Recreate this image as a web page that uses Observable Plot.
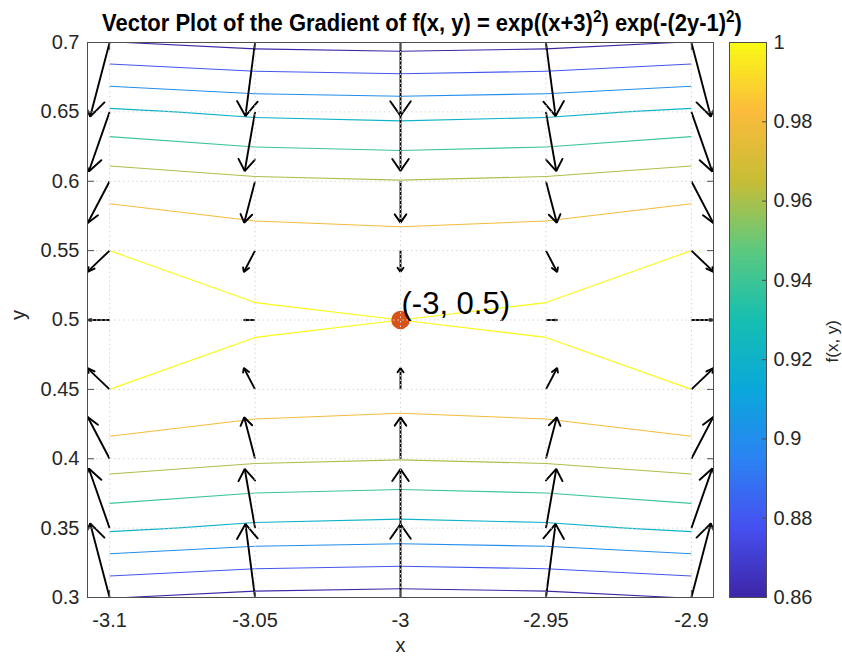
<!DOCTYPE html>
<html>
<head>
<meta charset="utf-8">
<script src="https://cdn.jsdelivr.net/npm/d3@7"></script>
<script src="https://cdn.jsdelivr.net/npm/@observablehq/plot@0.6"></script>
<style>
  html, body { margin: 0; padding: 0; background: #ffffff; }
  #fig { position: relative; width: 842px; height: 657px; overflow: hidden; font-family: "Liberation Sans", Arial, Helvetica, sans-serif; }
  #fig svg { position: absolute; left: 0; top: 0; }
  #title { position: absolute; left: 22px; top: 11px; width: 800px; text-align: center; font-weight: bold; font-size: 23.5px; line-height: 24px; color: #000; white-space: nowrap; z-index: 5; transform: scale(0.935, 1.05); transform-origin: 50% 50%; }
  #title sup { font-size: 70%; line-height: 0; vertical-align: 0.55em; }
</style>
</head>
<body>
<div id="fig">
  <div id="title">Vector Plot of the Gradient of f(x, y) = exp((x+3)<sup>2</sup>) exp(-(2y-1)<sup>2</sup>)</div>
</div>
<script>
// ---------- data ----------
const xGrid = [-3.1, -3.05, -3, -2.95, -2.9];
const yGrid = [0.3, 0.35, 0.4, 0.45, 0.5, 0.55, 0.6, 0.65, 0.7];

// f(x, y) sampled on the grid (rows follow yGrid, columns follow xGrid)
const fGrid = [
  [0.860708, 0.854277, 0.852144, 0.854277, 0.860708],
  [0.923116, 0.916219, 0.913931, 0.916219, 0.923116],
  [0.970445, 0.963194, 0.960789, 0.963194, 0.970445],
  [1.000000, 0.992528, 0.990050, 0.992528, 1.000000],
  [1.010050, 1.002503, 1.000000, 1.002503, 1.010050],
  [1.000000, 0.992528, 0.990050, 0.992528, 1.000000],
  [0.970445, 0.963194, 0.960789, 0.963194, 0.970445],
  [0.923116, 0.916219, 0.913931, 0.916219, 0.923116],
  [0.860708, 0.854277, 0.852144, 0.854277, 0.860708]
];

// displayed (auto-scaled) arrow components, data units
const uGrid = [
  [-0.006675, -0.003313, 0, 0.003313, 0.006675],
  [-0.007159, -0.003553, 0, 0.003553, 0.007159],
  [-0.007526, -0.003735, 0, 0.003735, 0.007526],
  [-0.007755, -0.003849, 0, 0.003849, 0.007755],
  [-0.007833, -0.003887, 0, 0.003887, 0.007833],
  [-0.007755, -0.003849, 0, 0.003849, 0.007755],
  [-0.007526, -0.003735, 0, 0.003735, 0.007526],
  [-0.007159, -0.003553, 0, 0.003553, 0.007159],
  [-0.006675, -0.003313, 0, 0.003313, 0.006675]
];
const vGrid = [
  [0.053400, 0.053000, 0.052869, 0.053000, 0.053400],
  [0.042954, 0.042632, 0.042527, 0.042632, 0.042954],
  [0.030104, 0.029879, 0.029805, 0.029879, 0.030104],
  [0.015510, 0.015394, 0.015356, 0.015394, 0.015510],
  [0, 0, 0, 0, 0],
  [-0.015510, -0.015394, -0.015356, -0.015394, -0.015510],
  [-0.030104, -0.029879, -0.029805, -0.029879, -0.030104],
  [-0.042954, -0.042632, -0.042527, -0.042632, -0.042954],
  [-0.053400, -0.053000, -0.052869, -0.053000, -0.053400]
];

const contourLevels = [0.86, 0.88, 0.9, 0.92, 0.94, 0.96, 0.98, 1.0];

const peakX = [-3];
const peakY = [0.5];
const peakLabel = ["(-3, 0.5)"];

const xTicks = [-3.1, -3.05, -3, -2.95, -2.9];
const xTickLabels = ["-3.1", "-3.05", "-3", "-2.95", "-2.9"];
const yTicks = [0.3, 0.35, 0.4, 0.45, 0.5, 0.55, 0.6, 0.65, 0.7];
const yTickLabels = ["0.3", "0.35", "0.4", "0.45", "0.5", "0.55", "0.6", "0.65", "0.7"];
const cbTicks = [0.86, 0.88, 0.9, 0.92, 0.94, 0.96, 0.98, 1];
const cbTickLabels = ["0.86", "0.88", "0.9", "0.92", "0.94", "0.96", "0.98", "1"];

const parulaStops = ["#3e26a8", "#4650f0", "#2b83f3", "#0aa8da", "#16bfb1", "#5cc97f", "#c8bd36", "#fbbb3b", "#f9fb15"];

// ---------- derived geometry ----------
const HEAD = 0.2;
const arrows = [];
const barbs = [];
yGrid.forEach((y, j) => xGrid.forEach((x, i) => {
  const u = uGrid[j][i], v = vGrid[j][i];
  if (u === 0 && v === 0) return;
  const xe = x + u, ye = y + v;
  const id = arrows.length;
  arrows.push({x, y, xe, ye});
  const xt = x + u * (1 - HEAD), yt = y + v * (1 - HEAD);
  const k = HEAD / 3;
  barbs.push({id, x: xt - v * k, y: yt + u * k});
  barbs.push({id, x: xe, y: ye});
  barbs.push({id, x: xt + v * k, y: yt - u * k});
}));

// marching squares on the coarse grid (linear interpolation)
const segs = [];
for (const L of contourLevels) {
  for (let j = 0; j < yGrid.length - 1; j++) {
    for (let i = 0; i < xGrid.length - 1; i++) {
      const c = [[i, j], [i + 1, j], [i + 1, j + 1], [i, j + 1]];
      const vals = c.map(([a, b]) => fGrid[b][a]);
      const pts = [];
      for (let e = 0; e < 4; e++) {
        const [a1, b1] = c[e], [a2, b2] = c[(e + 1) % 4];
        const v1 = vals[e], v2 = vals[(e + 1) % 4];
        if ((v1 >= L) !== (v2 >= L)) {
          const t = (L - v1) / (v2 - v1);
          pts.push([xGrid[a1] + t * (xGrid[a2] - xGrid[a1]), yGrid[b1] + t * (yGrid[b2] - yGrid[b1])]);
        }
      }
      for (let p = 0; p + 1 < pts.length; p += 2) {
        segs.push({level: L, x1: pts[p][0], y1: pts[p][1], x2: pts[p + 1][0], y2: pts[p + 1][1]});
      }
    }
  }
}

const cMin = cbTicks[0], cMax = cbTicks[cbTicks.length - 1];
const colorScale = {
  type: "linear",
  domain: parulaStops.map((_, i) => cMin + i * (cMax - cMin) / (parulaStops.length - 1)),
  range: parulaStops
};

const FONT = "'Liberation Sans', Arial, Helvetica, sans-serif";
const AX = "#4d4d4d";
const GRID = "#d6d6d6";
const fmt = (labels, ticks) => d => labels[ticks.indexOf(d)];

const main = Plot.plot({
  width: 842, height: 657,
  marginLeft: 87, marginRight: 129, marginTop: 42, marginBottom: 60,
  x: {domain: [-3.1076, -2.8924], label: null},
  y: {domain: [0.3, 0.7], label: null},
  color: colorScale,
  style: {background: "none", fontFamily: FONT, fontSize: "20px", color: "#262626", overflow: "visible"},
  marks: [
    Plot.link(segs, {x1: "x1", y1: "y1", x2: "x2", y2: "y2", stroke: "level", strokeWidth: 1.1, clip: true}),
    Plot.link(arrows, {x1: "x", y1: "y", x2: "xe", y2: "ye", stroke: "black", strokeWidth: 1.9, clip: true}),
    Plot.line(barbs, {x: "x", y: "y", z: "id", stroke: "black", strokeWidth: 1.9, strokeLinejoin: "miter", clip: true}),
    Plot.dot(peakLabel, {x: (d, i) => peakX[i], y: (d, i) => peakY[i], r: 8.5, fill: "#d95319", stroke: "#d95319"}),
    Plot.text(peakLabel, {x: (d, i) => peakX[i], y: (d, i) => peakY[i], text: d => d, textAnchor: "start", lineAnchor: "bottom", dx: 1, dy: -6, fontSize: 31, fill: "black"}),
    Plot.gridX(xTicks, {stroke: GRID, strokeOpacity: 1, strokeDasharray: "1.5,3"}),
    Plot.gridY(yTicks, {stroke: GRID, strokeOpacity: 1, strokeDasharray: "1.5,3"}),
    Plot.frame({stroke: AX}),
    Plot.axisX(xTicks, {anchor: "bottom", tickSize: -7, tickFormat: () => "", stroke: AX, label: null}),
    Plot.axisX(xTicks, {anchor: "top", tickSize: -7, tickFormat: () => "", stroke: AX, label: null}),
    Plot.axisY(yTicks, {anchor: "left", tickSize: -7, tickFormat: () => "", stroke: AX, label: null}),
    Plot.axisY(yTicks, {anchor: "right", tickSize: -7, tickFormat: () => "", stroke: AX, label: null}),
    Plot.axisX(xTicks, {anchor: "bottom", tickSize: 0, tickPadding: 15, tickFormat: fmt(xTickLabels, xTicks), fontSize: 20, fill: "#262626", label: null}),
    Plot.axisY(yTicks, {anchor: "left", tickSize: 0, tickPadding: 8, tickFormat: fmt(yTickLabels, yTicks), fontSize: 20, fill: "#262626", label: null}),
    Plot.text(["x"], {frameAnchor: "bottom", text: d => d, dy: 54, fontSize: 20, fill: "#262626"}),
    Plot.text(["y"], {frameAnchor: "left", text: d => d, dx: -69, rotate: -90, fontSize: 20, fill: "#262626"})
  ]
});

const ramp = d3.range(140).map(i => ({
  y1: cMin + i * (cMax - cMin) / 140,
  y2: Math.min(cMax, cMin + (i + 1.6) * (cMax - cMin) / 140),
  v: cMin + (i + 0.5) * (cMax - cMin) / 140
}));

const cbar = Plot.plot({
  width: 842, height: 657,
  marginLeft: 729, marginRight: 76, marginTop: 42, marginBottom: 60,
  x: {domain: [0, 1], axis: null},
  y: {domain: [cMin, cMax], axis: null},
  color: colorScale,
  style: {background: "none", fontFamily: FONT, fontSize: "20px", color: "#262626", overflow: "visible"},
  marks: [
    Plot.rect(ramp, {x1: 0, x2: 1, y1: "y1", y2: "y2", fill: "v"}),
    Plot.frame({stroke: AX}),
    Plot.axisY(cbTicks, {anchor: "right", tickSize: -5, tickFormat: () => "", stroke: AX, label: null}),
    Plot.axisY(cbTicks, {anchor: "right", tickSize: 0, tickPadding: 7, tickFormat: fmt(cbTickLabels, cbTicks), fontSize: 20, fill: "#262626", label: null}),
    Plot.text(["f(x, y)"], {frameAnchor: "right", text: d => d, dx: 66, rotate: -90, fontSize: 17, fill: "#262626"})
  ]
});

const fig = document.getElementById("fig");
fig.appendChild(main);
fig.appendChild(cbar);
</script>
</body>
</html>
